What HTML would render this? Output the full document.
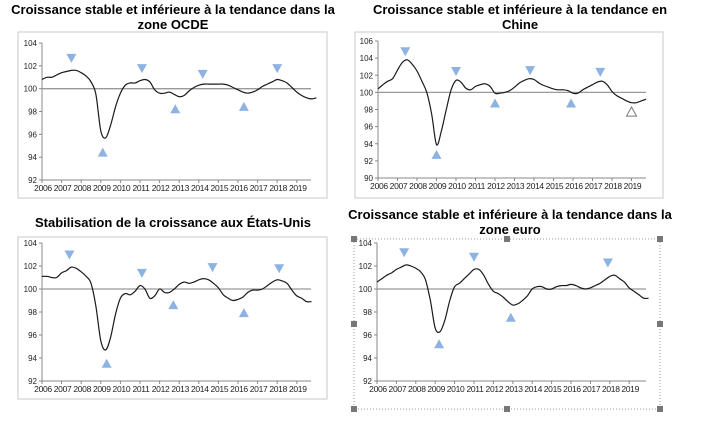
<!DOCTYPE html>
<html><head><meta charset="utf-8"><style>
body{margin:0;background:#fff;width:725px;height:422px;overflow:hidden;font-family:"Liberation Sans",sans-serif}
svg{position:absolute;left:0;top:0}
</style></head><body>
<svg id="s" width="725" height="422" xmlns="http://www.w3.org/2000/svg"></svg>
<script>
const years=[2006,2007,2008,2009,2010,2011,2012,2013,2014,2015,2016,2017,2018,2019];
const ocdeVals=[100.8,101.0,101.0,101.2,101.4,101.5,101.6,101.6,101.4,101.1,100.6,99.5,96.3,95.7,96.8,98.4,99.6,100.3,100.5,100.5,100.7,100.8,100.6,99.9,99.6,99.6,99.7,99.5,99.3,99.4,99.8,100.1,100.3,100.4,100.4,100.4,100.4,100.4,100.3,100.1,99.9,99.7,99.6,99.7,99.9,100.2,100.4,100.6,100.8,100.7,100.5,100.1,99.7,99.4,99.2,99.1,99.2];
const chinaVals=[100.4,100.9,101.3,101.6,102.6,103.5,103.8,103.3,102.5,101.3,100.0,97.5,93.9,95.5,98.0,100.3,101.4,101.2,100.5,100.3,100.7,100.9,101.0,100.7,99.9,99.9,100.0,100.2,100.6,101.1,101.4,101.6,101.5,101.1,100.8,100.6,100.4,100.3,100.3,100.2,99.9,99.9,100.3,100.6,100.9,101.2,101.3,100.9,100.1,99.6,99.3,99.0,98.8,98.8,99.0,99.2];
const usVals=[101.1,101.1,101.0,101.0,101.4,101.6,101.9,101.8,101.5,101.1,100.5,98.5,95.5,94.7,95.8,97.8,99.2,99.6,99.5,99.8,100.3,100.0,99.2,99.4,100.0,99.7,99.7,100.0,100.4,100.6,100.5,100.6,100.8,100.9,100.8,100.5,100.1,99.5,99.2,99.0,99.1,99.3,99.7,99.9,99.9,100.0,100.3,100.6,100.8,100.7,100.5,99.9,99.4,99.2,98.9,98.9];
const euroVals=[100.6,100.9,101.2,101.4,101.7,101.9,102.1,102.0,101.8,101.5,100.8,99.0,96.6,96.3,97.3,99.0,100.2,100.5,100.9,101.3,101.7,101.7,101.2,100.4,99.8,99.6,99.3,98.9,98.6,98.7,99.0,99.4,100.0,100.2,100.2,100.0,100.0,100.2,100.3,100.3,100.4,100.3,100.1,100.0,100.1,100.3,100.5,100.8,101.1,101.2,100.9,100.6,100.1,99.8,99.5,99.2,99.2];
const ocdePeaks=[[2007.5,102.7],[2011.1,101.8],[2014.2,101.3],[2018.0,101.8]];
const ocdeTroughs=[[2009.1,94.4],[2012.8,98.2],[2016.3,98.4]];
const chinaPeaks=[[2007.4,104.8],[2010.0,102.5],[2013.8,102.6],[2017.4,102.4]];
const chinaTroughs=[[2009.0,92.7],[2012.0,98.7],[2015.9,98.7]];
const chinaOpen=[[2019.0,97.7]];
const usPeaks=[[2007.4,103.0],[2011.1,101.4],[2014.7,101.9],[2018.1,101.8]];
const usTroughs=[[2009.3,93.5],[2012.7,98.6],[2016.3,97.9]];
const euroPeaks=[[2007.4,103.2],[2011.0,102.8],[2017.9,102.3]];
const euroTroughs=[[2009.2,95.2],[2012.9,97.5]];
const yTicksA=[92,94,96,98,100,102,104];
const yTicksC=[90,92,94,96,98,100,102,104,106];

const S=document.getElementById('s');const NS='http://www.w3.org/2000/svg';
function mk(t,a,p){const e=document.createElementNS(NS,t);for(const k in a)e.setAttribute(k,a[k]);(p||S).appendChild(e);return e;}
function smooth(P){let d='M'+P[0][0].toFixed(1)+','+P[0][1].toFixed(1);
  for(let i=0;i<P.length-1;i++){const p0=P[i-1]||P[i],p1=P[i],p2=P[i+1],p3=P[i+2]||p2;
    const c1=[p1[0]+(p2[0]-p0[0])/6,p1[1]+(p2[1]-p0[1])/6],c2=[p2[0]-(p3[0]-p1[0])/6,p2[1]-(p3[1]-p1[1])/6];
    d+=` C${c1[0].toFixed(1)},${c1[1].toFixed(1)} ${c2[0].toFixed(1)},${c2[1].toFixed(1)} ${p2[0].toFixed(1)},${p2[1].toFixed(1)}`;}
  return d;}
function chart(c){
  const g=mk('g',{});
  
  
  c.title.forEach((t,i)=>{const e=mk('text',{x:c.tx,y:c.ty+i*15,'text-anchor':'middle','font-size':'13','font-weight':'bold',fill:'#000'},g);e.textContent=t;
    
    });
  const fr=mk('rect',{x:c.fx,y:c.fy,width:c.fw,height:c.fh,fill:'none',stroke:c.dotted?'#999':'#c8c8c8','stroke-width':1,'stroke-dasharray':c.dotted?'1,2':'none'},g);
  
  
  const ymin=c.yt[0],ymax=c.yt[c.yt.length-1];
  const X=v=>c.x0+(v-2006)*c.pxy, Y=v=>c.yb-(v-ymin)/(ymax-ymin)*(c.yb-c.ytop);
  mk('line',{x1:c.x0,y1:c.ytop,x2:c.x0,y2:c.yb,stroke:'#888'},g);
  mk('line',{x1:c.x0,y1:c.yb,x2:c.xe,y2:c.yb,stroke:'#888'},g);
  c.yt.forEach(v=>{mk('line',{x1:c.x0-3,y1:Y(v),x2:c.x0,y2:Y(v),stroke:'#888'},g);
    const t=mk('text',{x:c.x0-5,y:Y(v)+3,'text-anchor':'end','font-size':'8',fill:'#222'},g);t.textContent=v;
    
    });
  years.forEach(y=>{mk('line',{x1:X(y),y1:c.yb,x2:X(y),y2:c.yb+3,stroke:'#888'},g);
    const t=mk('text',{x:X(y)+1,y:c.yb+11,'text-anchor':'middle','font-size':'8.5','letter-spacing':'-0.3',fill:'#222'},g);t.textContent=y;
    
    });
  const rl=mk('line',{x1:c.x0,y1:Y(100),x2:c.xe,y2:Y(100),stroke:'#999','stroke-width':1.3},g);
  
  
  const P=c.vals.map((v,i)=>[X(2006+i/4),Y(v)]);
  const pl=mk('path',{d:smooth(P),fill:'none',stroke:'#1a1a1a','stroke-width':1.2,'stroke-linejoin':'round'},g);
  
  
  const tri=(d,v,up,open)=>{const x=X(d),y=Y(v);const p=up?`${x-5},${y+4} ${x+5},${y+4} ${x},${y-5}`:`${x-5},${y-4} ${x+5},${y-4} ${x},${y+5}`;
    const e=mk('polygon',{points:p,fill:open?'#fff':'#8db3e2',stroke:open?'#777':'none'},g);
    
    };
  c.peaks.forEach(p=>tri(p[0],p[1],false));
  c.troughs.forEach(p=>tri(p[0],p[1],true));
  (c.open||[]).forEach(p=>tri(p[0],p[1],true,true));
  if(c.dotted){[[c.fx,c.fy],[c.fx+c.fw/2,c.fy],[c.fx+c.fw,c.fy],[c.fx,c.fy+c.fh/2],[c.fx+c.fw,c.fy+c.fh/2],[c.fx,c.fy+c.fh],[c.fx+c.fw/2,c.fy+c.fh],[c.fx+c.fw,c.fy+c.fh]].forEach(h=>{
    const e=mk('rect',{x:h[0]-3,y:h[1]-3,width:6,height:6,fill:'#777'},g);
    
    });}
}
chart({name:'oecd-chart',title:['Croissance stable et inférieure à la tendance dans la','zone OCDE'],tx:173,ty:14,fx:18,fy:32,fw:309,fh:166,x0:42,xe:311,pxy:19.6,ytop:43,yb:180,yt:yTicksA,vals:ocdeVals,peaks:ocdePeaks,troughs:ocdeTroughs});
chart({name:'china-chart',title:['Croissance stable et inférieure à la tendance en','Chine'],tx:520,ty:14,fx:355,fy:32,fw:308,fh:166,x0:378,xe:646,pxy:19.5,ytop:41,yb:178,yt:yTicksC,vals:chinaVals,peaks:chinaPeaks,troughs:chinaTroughs,open:chinaOpen});
chart({name:'us-chart',title:['Stabilisation de la croissance aux États-Unis'],tx:173,ty:227,fx:18,fy:237,fw:309,fh:162,x0:42,xe:311,pxy:19.6,ytop:243,yb:381,yt:yTicksA,vals:usVals,peaks:usPeaks,troughs:usTroughs});
chart({name:'euro-chart',title:['Croissance stable et inférieure à la tendance dans la','zone euro'],tx:510,ty:219,fx:354,fy:239,fw:306,fh:170,x0:377,xe:646,pxy:19.4,ytop:243,yb:381,yt:yTicksA,vals:euroVals,peaks:euroPeaks,troughs:euroTroughs,dotted:true});
</script>
</body></html>
